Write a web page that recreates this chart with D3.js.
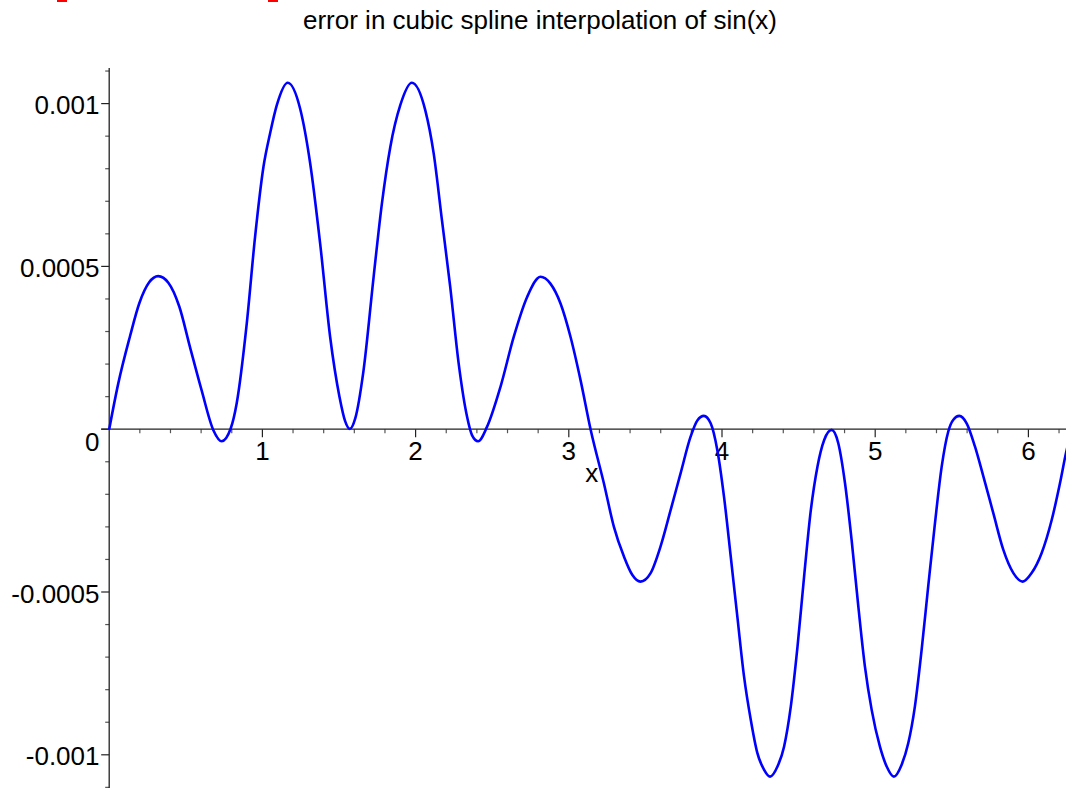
<!DOCTYPE html>
<html>
<head>
<meta charset="utf-8">
<script src="https://cdn.jsdelivr.net/npm/d3@7"></script>
<style>
  html, body { margin: 0; padding: 0; background: #fff; overflow: hidden; }
  svg { display: block; }
  text { font-family: "Liberation Sans", Arial, Helvetica, sans-serif; fill: #000; }
</style>
</head>
<body>
<svg id="chart" width="1066" height="788"></svg>
<script>
// Error of the cubic spline interpolant of sin(x) on [0, 2*pi]
const xValues = [
  0, 0.059, 0.135, 0.196, 0.261, 0.320, 0.386, 0.458, 0.527, 0.603,
  0.680, 0.734, 0.793, 0.832, 0.898, 0.952, 1.007, 1.050, 1.094, 1.166,
  1.246, 1.312, 1.377, 1.442, 1.503, 1.540, 1.571, 1.606, 1.660, 1.726,
  1.780, 1.835, 1.900, 1.976, 2.063, 2.118, 2.172, 2.226, 2.281, 2.336,
  2.368, 2.408, 2.466, 2.554, 2.641, 2.728, 2.815, 2.880, 2.946, 3.011,
  3.077, 3.142, 3.229, 3.294, 3.360, 3.414, 3.468, 3.534, 3.599,
  3.665, 3.730, 3.795, 3.839, 3.882, 3.926, 3.969, 4.013, 4.057, 4.100,
  4.144, 4.188, 4.231, 4.275, 4.314, 4.362, 4.405, 4.449, 4.493, 4.536,
  4.580, 4.623, 4.667, 4.716, 4.759, 4.803, 4.846, 4.890, 4.933, 4.977,
  5.031, 5.075, 5.122, 5.172, 5.216, 5.259, 5.303, 5.346, 5.390, 5.434,
  5.477, 5.510, 5.549, 5.597, 5.651, 5.706, 5.771, 5.836, 5.902, 5.963,
  6.021, 6.086, 6.152, 6.206, 6.245, 6.283
];
const errValues = [
  0, 0.000140, 0.000284, 0.000386, 0.000451, 0.000470, 0.000450, 0.000376, 0.000253, 0.000120,
  -0.000003, -0.000037, 0.000002, 0.000079, 0.000325, 0.000590, 0.000806, 0.000908, 0.000995, 0.001064,
  0.000985, 0.000816, 0.000570, 0.000284, 0.000100, 0.000025, 0.000001, 0.000033, 0.000180, 0.000468,
  0.000693, 0.000867, 0.000995, 0.001064, 0.000980, 0.000847, 0.000642, 0.000437, 0.000202, 0.000038,
  -0.000018, -0.000037, 0.000007, 0.000130, 0.000284, 0.000406, 0.000468, 0.000447, 0.000386, 0.000284,
  0.000150, 0, -0.000166, -0.000299, -0.000391, -0.000447, -0.000468, -0.000442, -0.000360,
  -0.000248, -0.000135, -0.000023, 0.000027, 0.000041, 0.000018, -0.000063, -0.000207, -0.000391, -0.000575,
  -0.000760, -0.000893, -0.000995, -0.001046, -0.001067, -0.001036, -0.000975, -0.000852, -0.000667, -0.000452,
  -0.000248, -0.000115, -0.000033, -0.000002, -0.000043, -0.000166, -0.000340, -0.000545, -0.000729, -0.000862,
  -0.000975, -0.001036, -0.001067, -0.001031, -0.000964, -0.000852, -0.000678, -0.000483, -0.000289, -0.000115,
  -0.000007, 0.000029, 0.000041, 0.000018, -0.000053, -0.000145, -0.000258, -0.000370, -0.000442, -0.000468,
  -0.000442, -0.000381, -0.000279, -0.000166, -0.000074, 0
];

const xMajorTicks = [1, 2, 3, 4, 5, 6];
const xTickLabels = ["1", "2", "3", "4", "5", "6"];
const yMajorTicks = [-0.001, -0.0005, 0, 0.0005, 0.001];
const yTickLabels = ["-0.001", "-0.0005", "0", "0.0005", "0.001"];
const titleText = "error in cubic spline interpolation of sin(x)";
const xAxisLabel = "x";

const svg = d3.select("#chart");

const x0 = 109.2, xUnit = 153.2;
const xScale = d3.scaleLinear().domain([0, 2 * Math.PI]).range([x0, x0 + 2 * Math.PI * xUnit]);
const yZero = 429.2, yPerUnit = 325600;
const yScale = d3.scaleLinear().domain([-0.0011, 0.0011])
  .range([yZero + 0.0011 * yPerUnit, yZero - 0.0011 * yPerUnit]);

// red marks along the top edge
svg.append("rect").attr("x", 57).attr("y", 0).attr("width", 10).attr("height", 2).attr("fill", "#ff0000");
svg.append("rect").attr("x", 268).attr("y", 0).attr("width", 10).attr("height", 2).attr("fill", "#ff0000");

// title
svg.append("text")
  .attr("x", 540).attr("y", 29)
  .attr("text-anchor", "middle")
  .attr("font-size", 26)
  .text(titleText);

const axes = svg.append("g");

// minor ticks
const xMinor = d3.range(1, 32).map(i => i * 0.2).filter(v => Math.abs(v - Math.round(v)) > 1e-6);
const yMinor = d3.range(-11, 12).map(i => i * 0.0001).filter(v => Math.abs(v * 2000 - Math.round(v * 2000)) > 1e-6);

axes.selectAll("line.xminor").data(xMinor).join("line")
  .attr("x1", d => xScale(d)).attr("x2", d => xScale(d))
  .attr("y1", yZero).attr("y2", yZero + 4)
  .attr("stroke", "#555").attr("stroke-width", 1.2);
axes.selectAll("line.xmajor").data(xMajorTicks).join("line")
  .attr("x1", d => xScale(d)).attr("x2", d => xScale(d))
  .attr("y1", yZero).attr("y2", yZero + 8)
  .attr("stroke", "#222").attr("stroke-width", 1.2);

axes.selectAll("line.yminor").data(yMinor).join("line")
  .attr("x1", x0 - 4).attr("x2", x0)
  .attr("y1", d => yScale(d)).attr("y2", d => yScale(d))
  .attr("stroke", "#555").attr("stroke-width", 1.2);
axes.selectAll("line.ymajor").data(yMajorTicks).join("line")
  .attr("x1", x0 - 8).attr("x2", x0)
  .attr("y1", d => yScale(d)).attr("y2", d => yScale(d))
  .attr("stroke", "#222").attr("stroke-width", 1.2);

// axis lines
axes.append("line")
  .attr("x1", x0 - 8).attr("x2", 1066)
  .attr("y1", yZero).attr("y2", yZero)
  .attr("stroke", "#222").attr("stroke-width", 1.3);
axes.append("line")
  .attr("x1", x0).attr("x2", x0)
  .attr("y1", 68).attr("y2", 788)
  .attr("stroke", "#222").attr("stroke-width", 1.3);

// tick labels
svg.selectAll("text.xlab").data(xMajorTicks).join("text")
  .attr("class", "xlab")
  .attr("x", d => xScale(d)).attr("y", yZero + 31)
  .attr("text-anchor", "middle").attr("font-size", 26)
  .text((d, i) => xTickLabels[i]);

svg.selectAll("text.ylab").data(yMajorTicks).join("text")
  .attr("class", "ylab")
  .attr("x", 99.5)
  .attr("y", d => yScale(d) + (d === 0 ? 21.5 : 10.5))
  .attr("text-anchor", "end").attr("font-size", 26)
  .text((d, i) => yTickLabels[i]);

// axis label
svg.append("text")
  .attr("x", xScale(3.15)).attr("y", 482)
  .attr("text-anchor", "middle").attr("font-size", 26)
  .text(xAxisLabel);

// error curve
const pts = xValues.map((v, i) => [v, errValues[i]]);
const line = d3.line()
  .x(d => xScale(d[0]))
  .y(d => yScale(d[1]))
  .curve(d3.curveMonotoneX);

svg.append("path")
  .datum(pts)
  .attr("d", line)
  .attr("fill", "none")
  .attr("stroke", "#0000ff")
  .attr("stroke-width", 2.6)
  .attr("stroke-linejoin", "round");
</script>
</body>
</html>
